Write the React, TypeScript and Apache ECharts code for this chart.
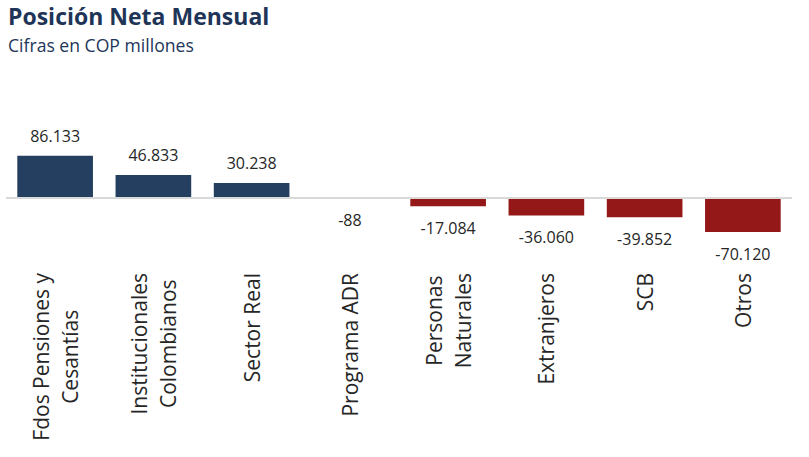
import React, { useEffect, useRef } from "react";
import * as echarts from "echarts";

const categories: string[] = [
  "Fdos Pensiones y\nCesantías",
  "Institucionales\nColombianos",
  "Sector Real",
  "Programa ADR",
  "Personas\nNaturales",
  "Extranjeros",
  "SCB",
  "Otros",
];
const values: number[] = [86133, 46833, 30238, -88, -17084, -36060, -39852, -70120];

const titleText = "Posición Neta Mensual";
const subtitleText = "Cifras en COP millones";

const POS_COLOR = "#243F60";
const NEG_COLOR = "#941818";
const FONT = "'Open Sans', 'Noto Sans', sans-serif";

function fmt(v: number): string {
  const s = Math.abs(v).toString().replace(/\B(?=(\d{3})+(?!\d))/g, ".");
  return (v < 0 ? "-" : "") + s;
}

export default function App() {
  const ref = useRef<HTMLDivElement>(null);
  useEffect(() => {
    document.body.style.margin = "0";
    if (!ref.current) return;
    const chart = echarts.init(ref.current, undefined, { renderer: "svg" });
    chart.setOption({
      animation: false,
      backgroundColor: "#ffffff",
      graphic: [
        {
          type: "text",
          left: 8,
          top: 4,
          style: {
            text: titleText,
            font: `bold 23px ${FONT}`,
            fill: "#1F3557",
          },
        },
        {
          type: "text",
          left: 8,
          top: 36,
          style: {
            text: subtitleText,
            font: `17.6px ${FONT}`,
            fill: "#22365A",
          },
        },
      ],
      grid: { left: 6, right: 17, top: 149, bottom: 186, containLabel: false },
      xAxis: {
        type: "category",
        data: categories,
        axisLine: { show: false, onZero: false },
        axisTick: { show: false },
        axisLabel: {
          interval: 0,
          rotate: 90,
          margin: 2,
          formatter: (v: string) =>
            v
              .split("\n")
              .map((l) => `{c|${l}}`)
              .join("\n"),
          rich: {
            c: {
              align: "center",
              fontFamily: FONT,
              fontSize: 21,
              lineHeight: 29,
              color: "#262626",
            },
          },
        },
      },
      yAxis: {
        type: "value",
        min: -150000,
        max: 100000,
        show: false,
        splitLine: { show: false },
      },
      series: [
        {
          type: "bar",
          barWidth: "77%",
          data: values.map((v) => ({
            value: v,
            itemStyle: { color: v >= 0 ? POS_COLOR : NEG_COLOR },
            label: {
              show: true,
              position: v >= 0 ? "top" : "bottom",
              distance: v >= 0 ? 12 : 14,
              formatter: () => fmt(v),
              fontFamily: FONT,
              fontSize: 16,
              color: "#262626",
            },
          })),
          markLine: {
            silent: true,
            symbol: "none",
            label: { show: false },
            lineStyle: { color: "#D9D9D9", width: 2, type: "solid" },
            data: [{ yAxis: 0 }],
          },
        },
      ],
    });
    return () => chart.dispose();
  }, []);
  return <div ref={ref} style={{ width: 809, height: 457 }} />;
}
